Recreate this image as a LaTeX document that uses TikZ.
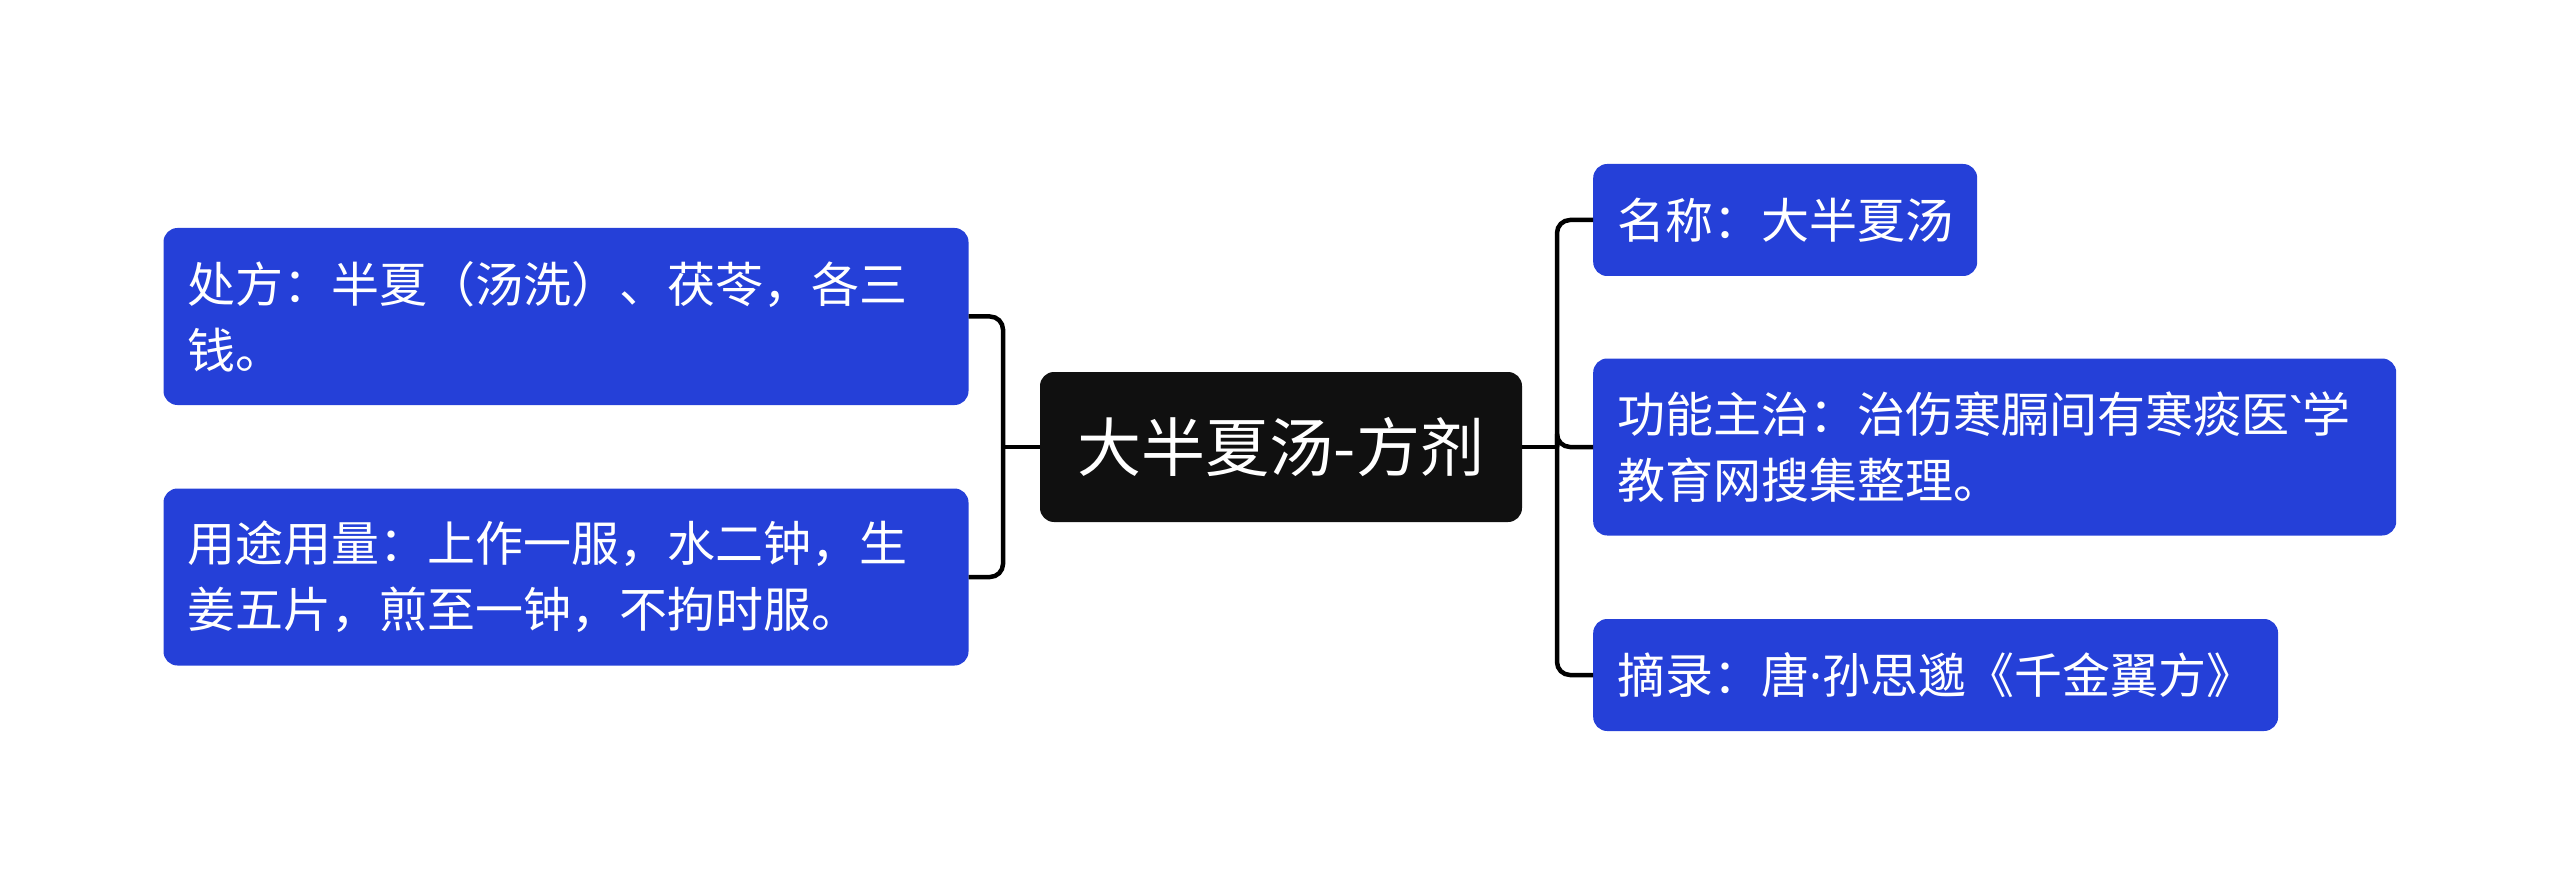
\documentclass[tikz,border=0pt]{standalone}
\usepackage{fontspec}
\setmainfont{Noto Sans CJK SC}
\newfontfamily\latinfont{Noto Sans}
\usepackage{xcolor}
\definecolor{leafblue}{RGB}{37,64,216}
\definecolor{rootblack}{RGB}{16,16,16}
\tikzset{
  leaf/.style = {fill=leafblue, text=white, rounded corners=14pt, inner xsep=24pt,
    minimum height=112pt, font=\fontsize{48}{66}\selectfont, align=left},
  root/.style = {fill=rootblack, text=white, rounded corners=14pt,
    minimum width=482pt, minimum height=150pt, font=\fontsize{64}{70}\selectfont},
  link/.style = {draw=black, line width=4.5pt, rounded corners=13pt}
}
\begin{document}
\begin{tikzpicture}[x=1pt,y=1pt]
  \useasboundingbox (0,0) rectangle (2560,-893);

  \node[root] (root) at (1281,-447) {大半夏汤-方剂};

  \node[leaf, text width=757pt, minimum height=177pt] (pres) at (566,-316.5)
    {处方：半夏（汤洗）、茯苓，各三\\钱。};
  \node[leaf, text width=757pt, minimum height=177pt] (usage) at (566,-577)
    {用途用量：上作一服，水二钟，生\\姜五片，煎至一钟，不拘时服。};

  \node[leaf, anchor=west] (name) at (1593,-220) {名称：大半夏汤};
  \node[leaf, anchor=west, text width=755pt, minimum height=177pt] (func) at (1593,-447)
    {功能主治：治伤寒膈间有寒痰医{\latinfont\symbol{96}}学\\教育网搜集整理。};
  \node[leaf, anchor=west] (source) at (1593,-675) {摘录：唐{\latinfont ·}孙思邈《千金翼方》};

  \coordinate (jl) at (1003,-447);
  \coordinate (jr) at (1557,-447);

  % left side
  \draw[link] (root.west) -- (jl);
  \draw[link] (jl) |- (pres.east);
  \draw[link] (jl) |- (usage.east);

  % right side
  \draw[link] (root.east) -- (jr);
  \draw[link] (jr) |- (name.west);
  \draw[link] (jr) |- (func.west);
  \draw[link] (jr) |- (source.west);
\end{tikzpicture}
\end{document}
